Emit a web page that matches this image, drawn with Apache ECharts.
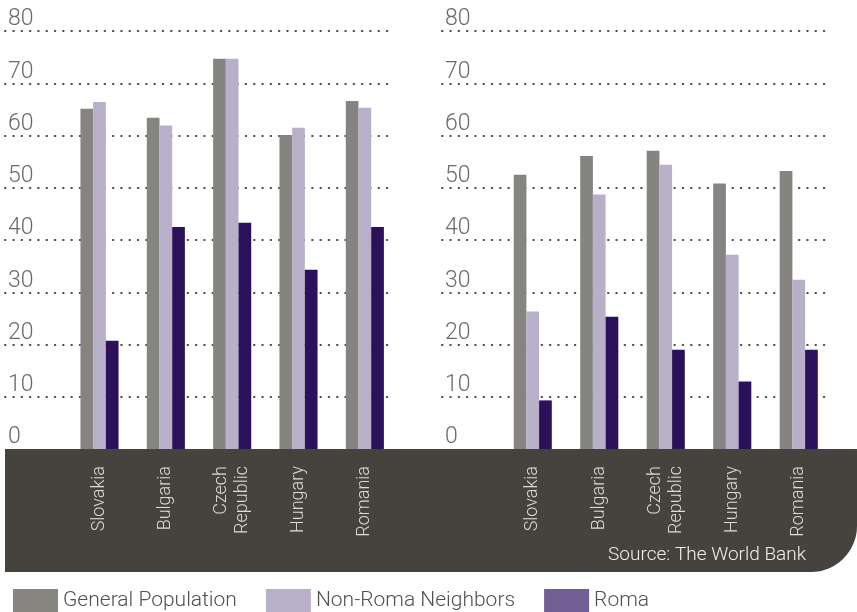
<!DOCTYPE html>
<html>
<head>
<meta charset="utf-8">
<script src="https://cdn.jsdelivr.net/npm/echarts@6/dist/echarts.min.js"></script>
<style>html,body{margin:0;padding:0;background:#fff;}#c{width:857px;height:612px;}</style>
</head>
<body>
<div id="c"></div>
<script>
const categories = ['Slovakia', 'Bulgaria', 'Czech\nRepublic', 'Hungary', 'Romania'];
const seriesNames = ['General Population', 'Non-Roma Neighbors', 'Roma'];
const leftGeneral = [65.1, 63.4, 74.7, 60.1, 66.6];
const leftNonRoma = [66.4, 61.9, 74.7, 61.5, 65.3];
const leftRoma = [20.7, 42.5, 43.3, 34.3, 42.5];
const rightGeneral = [52.5, 56.1, 57.1, 50.8, 53.2];
const rightNonRoma = [26.3, 48.7, 54.4, 37.2, 32.4];
const rightRoma = [9.3, 25.3, 19.0, 12.9, 19.0];
const yTicks = [0, 10, 20, 30, 40, 50, 60, 70, 80];
const sourceText = 'Source: The World Bank';

const barColors = ['#858480', '#b8b0c8', '#2b1159'];
const legendColors = ['#868580', '#b9b1c9', '#735f93'];
const FONT = 'Roboto';

const chart = echarts.init(document.getElementById('c'), null, {renderer: 'canvas'});

const TOP = 31, BOTTOM = 612 - 449;
const grids = [
  {left: 0, width: 398, top: TOP, bottom: BOTTOM},
  {left: 5, width: 390, top: TOP, bottom: BOTTOM},
  {left: 433, width: 399, top: TOP, bottom: BOTTOM},
  {left: 442, width: 390, top: TOP, bottom: BOTTOM}
];

const catData = [''].concat(categories);
const yMax = yTicks[yTicks.length - 1];
const yInt = yTicks[1] - yTicks[0];

function barX(gi) {
  return {
    type: 'category', gridIndex: gi, data: catData,
    axisLine: {show: false}, axisTick: {show: false},
    axisLabel: {interval: 0, rotate: 90, margin: 17, fontSize: 18, lineHeight: 21,
      color: '#dedad4', fontFamily: FONT, fontWeight: 300}
  };
}
function plainX(gi) {
  return {type: 'value', gridIndex: gi, show: false, min: 0, max: 1};
}
function barY(gi) {
  return {type: 'value', gridIndex: gi, min: yTicks[0], max: yMax, interval: yInt, show: false, splitLine: {show: false}};
}
function lineY(gi) {
  return {
    type: 'value', gridIndex: gi, min: yTicks[0], max: yMax, interval: yInt,
    axisLine: {show: false}, axisTick: {show: false},
    axisLabel: {inside: true, margin: 3, verticalAlign: 'bottom', padding: [0, 0, 0, 0],
      fontSize: 23, color: '#6a6a6a', fontFamily: FONT, fontWeight: 300},
    splitLine: {show: true, showMinLine: false,
      lineStyle: {color: '#4a4a4a', width: 2, type: [0.5, 7.8], cap: 'round'}}
  };
}

function pad(arr) { return [null].concat(arr); }

const panelData = [
  [leftGeneral, leftNonRoma, leftRoma],
  [rightGeneral, rightNonRoma, rightRoma]
];
const series = [];
panelData.forEach((set, p) => {
  set.forEach((vals, si) => {
    series.push({
      name: seriesNames[si], type: 'bar', xAxisIndex: p * 2, yAxisIndex: p * 2,
      data: pad(vals), barWidth: 12.7, barGap: '0%',
      itemStyle: {color: barColors[si]}, z: 3, silent: true
    });
  });
});

chart.setOption({
  animation: false,
  backgroundColor: '#fff',
  grid: grids,
  xAxis: [barX(0), plainX(1), barX(2), plainX(3)],
  yAxis: [barY(0), lineY(1), barY(2), lineY(3)],
  graphic: [
    {type: 'rect', z: -10, shape: {x: 5, y: 449, width: 852, height: 123, r: [0, 0, 46, 0]},
     style: {fill: '#46433e'}},
    {type: 'text', z: 10, right: 51, top: 546,
     style: {text: sourceText, fill: '#f2eee8', font: '300 19px ' + FONT}}
  ],
  legend: {
    left: 13, top: 589, padding: 0, itemWidth: 45, itemHeight: 24, itemGap: 29, icon: 'rect',
    textStyle: {fontSize: 21, color: '#505050', fontFamily: FONT, fontWeight: 300},
    data: seriesNames.map((n, i) => ({name: n, itemStyle: {color: legendColors[i]}}))
  },
  series: series
});
</script>
</body>
</html>
